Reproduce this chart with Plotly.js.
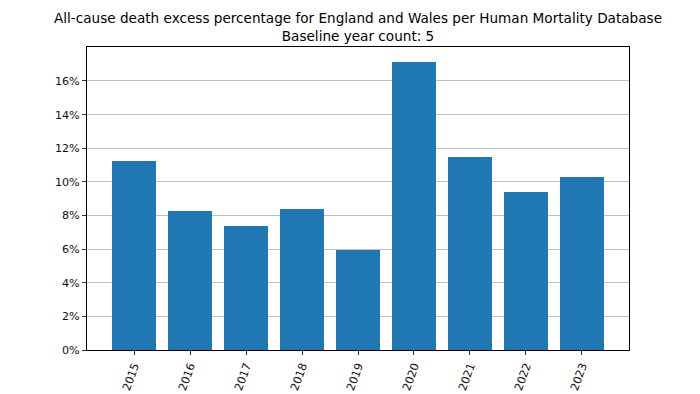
<!DOCTYPE html>
<html>
<head>
<meta charset="utf-8">
<script src="https://cdn.plot.ly/plotly-3.0.1.min.js"></script>
<style>html,body{margin:0;padding:0;background:#fff;}#chart{width:700px;height:394px;}</style>
</head>
<body>
<div id="chart"></div>
<script>
const years = ["2015","2016","2017","2018","2019","2020","2021","2022","2023"];
const excessPct = [11.25, 8.26, 7.35, 8.38, 5.94, 17.13, 11.49, 9.41, 10.26];
const yTickVals = [0, 2, 4, 6, 8, 10, 12, 14, 16];
const yTickText = ["0%","2%","4%","6%","8%","10%","12%","14%","16%"];
const titleLines = ["All-cause death excess percentage for England and Wales per Human Mortality Database", "Baseline year count: 5"];

const font = "DejaVu Sans, sans-serif";
Plotly.newPlot("chart", [{
  type: "bar",
  x: years.map((_, i) => i),
  y: excessPct,
  width: 0.8,
  marker: {color: "#1f77b4", line: {width: 0}},
  hoverinfo: "skip"
}], {
  width: 700, height: 394,
  margin: {l: 87, r: 71, t: 47, b: 44},
  paper_bgcolor: "#fff", plot_bgcolor: "#fff",
  font: {family: font, color: "#000", size: 11},
  annotations: [{
    text: titleLines.join("<br>"), showarrow: false,
    xref: "paper", yref: "paper", x: 0.5, y: 1, xanchor: "center", yanchor: "bottom",
    yshift: 1, align: "center",
    font: {family: font, size: 13.6, color: "#000"}
  }],
  showlegend: false,
  bargap: 0,
  xaxis: {
    range: [-0.84, 8.84],
    tickvals: years.map((_, i) => i), ticktext: years,
    tickangle: -70,
    ticks: "outside", ticklen: 4, tickwidth: 0.8, tickcolor: "#000",
    showgrid: false, zeroline: false,
    showline: true, linecolor: "#000", linewidth: 1, mirror: true,
    tickfont: {family: font, size: 11.2, color: "#111"}
  },
  yaxis: {
    range: [0, 18.02],
    tickvals: yTickVals, ticktext: yTickText,
    ticks: "outside", ticklen: 4, tickwidth: 0.8, tickcolor: "#000",
    showgrid: true, gridcolor: "#b0b0b0", gridwidth: 0.8,
    zeroline: false,
    showline: true, linecolor: "#000", linewidth: 1, mirror: true,
    tickfont: {family: font, size: 11.2, color: "#111"}
  }
}, {staticPlot: true, displayModeBar: false});
</script>
</body>
</html>
